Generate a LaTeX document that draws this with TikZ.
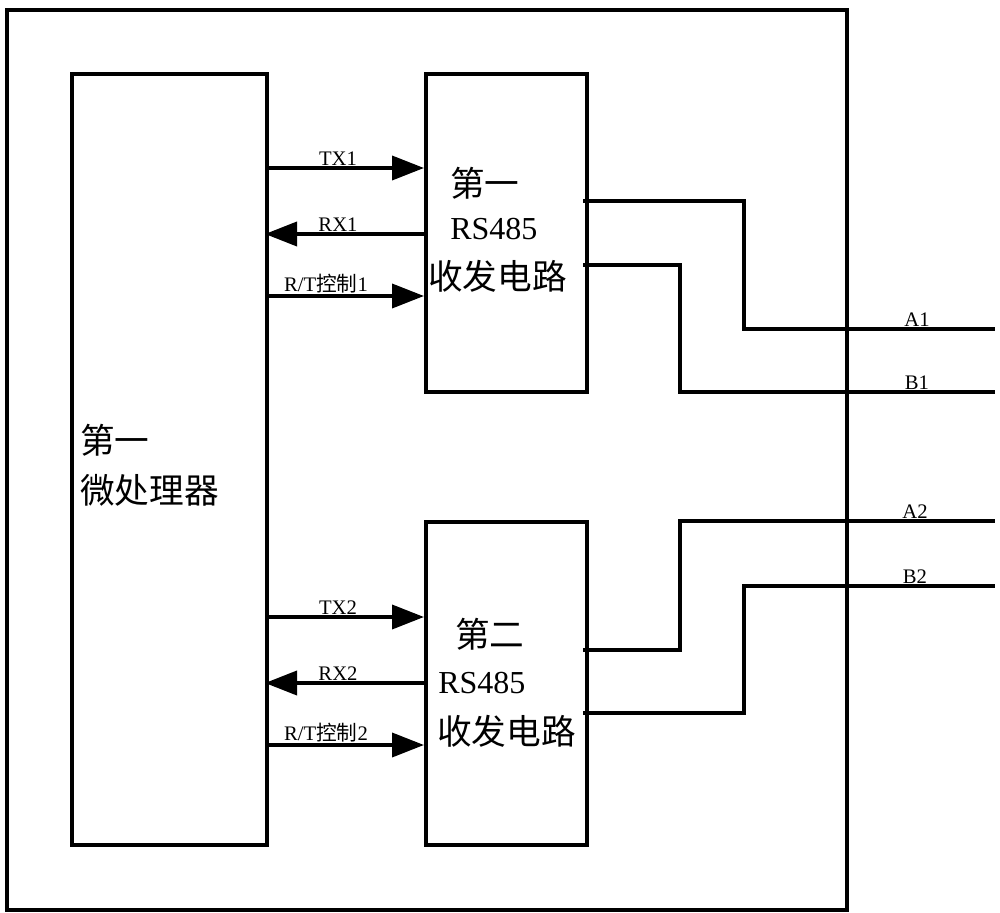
\documentclass[tikz,border=0pt]{standalone}
\usepackage{fontspec}
\setmainfont{Liberation Serif}
\newfontfamily\cjk{Noto Sans CJK SC}
\usetikzlibrary{arrows.meta}
\begin{document}
\begin{tikzpicture}[x=0.75pt,y=-0.75pt,
  wire/.style={line width=2.8pt,line cap=rect},
  sig/.style={line width=2.8pt,-{Triangle[length=24pt,width=18pt]}},
  blk/.style={draw,line width=2.8pt,anchor=north west,inner sep=0pt},
  lbl/.style={font=\fontsize{15.5pt}{15.5pt}\selectfont,inner sep=1pt,anchor=south},
  big/.style={font=\fontsize{24pt}{24pt}\selectfont,inner sep=0pt},
  bigc/.style={font=\fontsize{26pt}{26pt}\selectfont\cjk,inner sep=0pt}]
\useasboundingbox (0,0) rectangle (1000,913);
% outer frame
\node[blk,minimum width=840*0.75pt,minimum height=900*0.75pt] (frame) at (5,8) {};
% blocks
\node[blk,minimum width=195*0.75pt,minimum height=771*0.75pt] (mcu) at (70,72) {};
\node[blk,minimum width=161*0.75pt,minimum height=318*0.75pt] (rs1) at (424,72) {};
\node[blk,minimum width=161*0.75pt,minimum height=323*0.75pt] (rs2) at (424,520) {};
% texts
\node[bigc,anchor=west] (t1) at (80,440) {第一};
\node[bigc,anchor=west] (t2) at (80,490) {微处理器};
\node[bigc,anchor=west] (r11) at (450,183) {第一};
\node[big,anchor=west] (r12) at (450,229) {RS485};
\node[bigc,anchor=west] (r13) at (428,276) {收发电路};
\node[bigc,anchor=west] (r21) at (455,634) {第二};
\node[big,anchor=west] (r22) at (438,683) {RS485};
\node[bigc,anchor=west] (r23) at (437,731) {收发电路};
% signal arrows
\coordinate (m1) at (265,168); \coordinate (s1) at (424,168);
\coordinate (m2) at (265,234); \coordinate (s2) at (424,234);
\coordinate (m3) at (265,296); \coordinate (s3) at (424,296);
\coordinate (m4) at (265,617); \coordinate (s4) at (424,617);
\coordinate (m5) at (265,683); \coordinate (s5) at (424,683);
\coordinate (m6) at (265,745); \coordinate (s6) at (424,745);
\draw[sig] (m1) -- (s1);
\draw[sig] (s2) -- (m2);
\draw[sig] (m3) -- (s3);
\draw[sig] (m4) -- (s4);
\draw[sig] (s5) -- (m5);
\draw[sig] (m6) -- (s6);
\node[lbl] (l1) at (338,167) {TX1};
\node[lbl] (l2) at (338,233) {RX1};
\node[lbl] (l3) at (326,295) {R/T{\cjk 控制}1};
\node[lbl] (l4) at (338,616) {TX2};
\node[lbl] (l5) at (338,682) {RX2};
\node[lbl] (l6) at (326,744) {R/T{\cjk 控制}2};
% bus lines
\coordinate (a1s) at (585,201); \coordinate (a1e) at (993,329);
\coordinate (b1s) at (585,265); \coordinate (b1e) at (993,392);
\coordinate (a2s) at (585,650); \coordinate (a2e) at (993,521);
\coordinate (b2s) at (585,713); \coordinate (b2e) at (993,586);
\draw[wire] (a1s) -- (744,201) |- (a1e);
\draw[wire] (b1s) -- (680,265) |- (b1e);
\draw[wire] (a2s) -- (680,650) |- (a2e);
\draw[wire] (b2s) -- (744,713) |- (b2e);
\node[lbl] (la1) at (917,328) {A1};
\node[lbl] (lb1) at (917,391) {B1};
\node[lbl] (la2) at (915,520) {A2};
\node[lbl] (lb2) at (915,585) {B2};
\end{tikzpicture}
\end{document}
